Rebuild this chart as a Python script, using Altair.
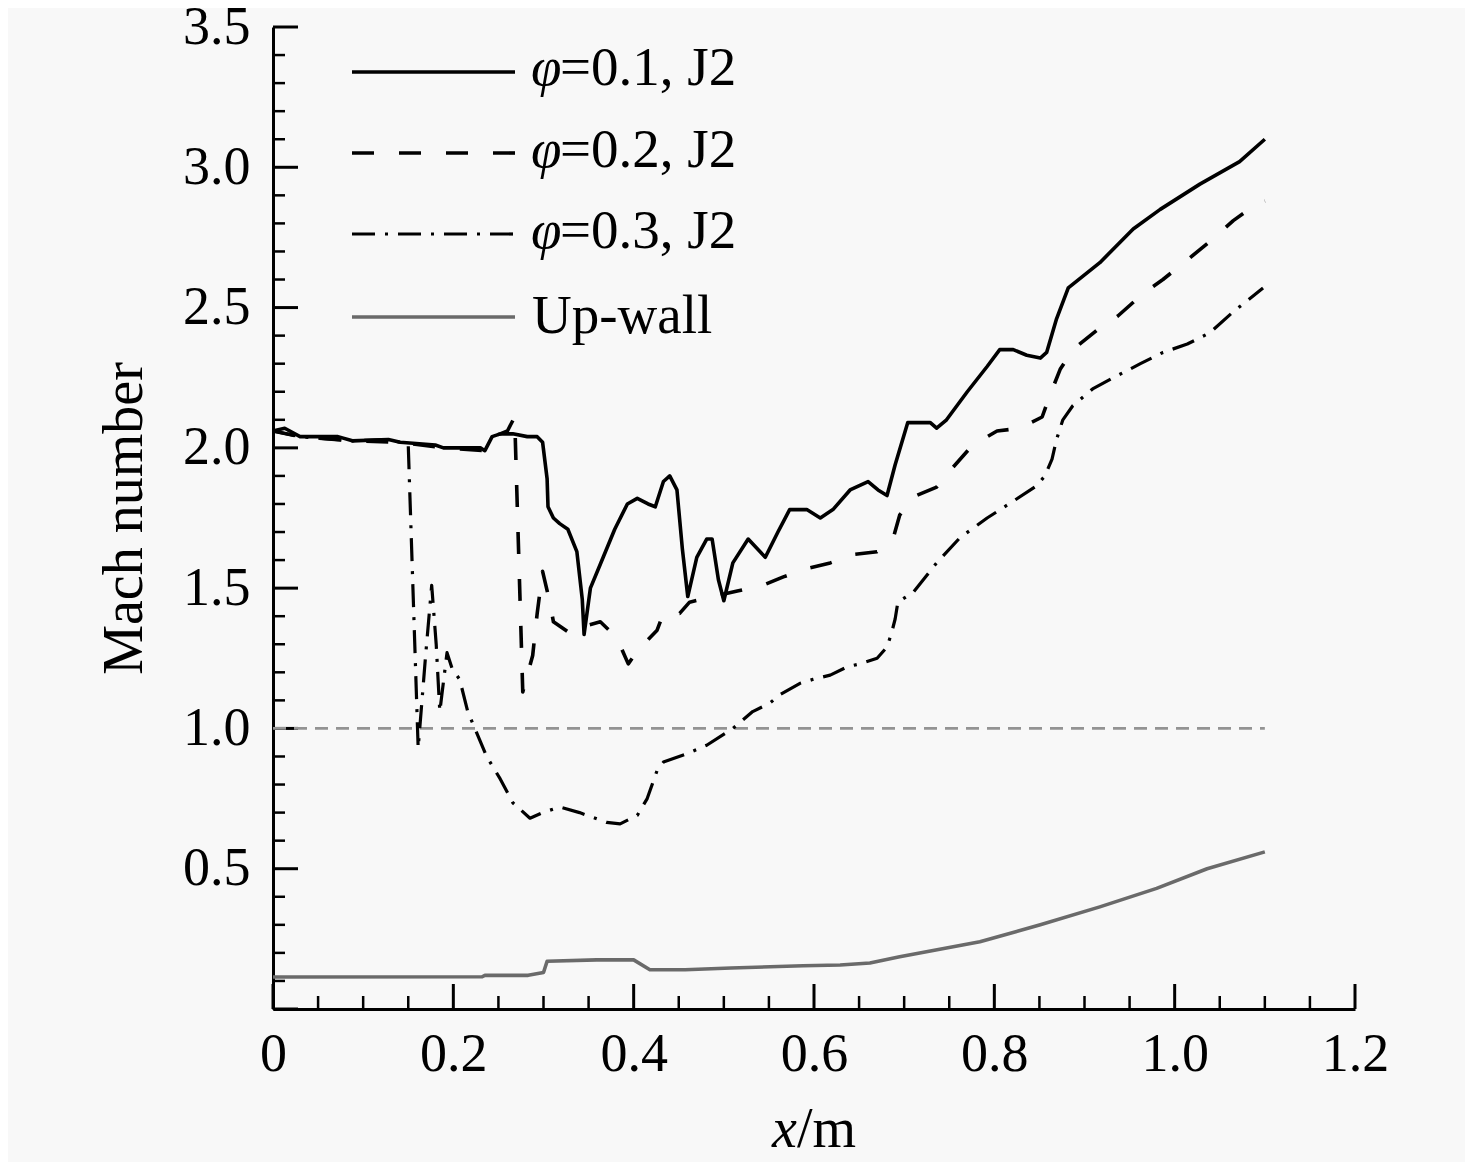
import altair as alt
import pandas as pd

# ---------------- data ----------------
phi01_x = [0, 0.013, 0.03, 0.072, 0.088, 0.128, 0.141, 0.18, 0.189, 0.23,
           0.235, 0.243, 0.252, 0.266, 0.282, 0.293, 0.299, 0.304, 0.305, 0.311,
           0.318, 0.327, 0.337, 0.343, 0.345, 0.352, 0.363, 0.379, 0.393, 0.404,
           0.416, 0.424, 0.433, 0.440, 0.448, 0.454, 0.460, 0.470, 0.481, 0.487,
           0.494, 0.500, 0.510, 0.527, 0.546, 0.560, 0.573, 0.592, 0.607, 0.621,
           0.640, 0.660, 0.671, 0.681, 0.690, 0.704, 0.718, 0.729, 0.736, 0.747,
           0.770, 0.792, 0.806, 0.821, 0.836, 0.851, 0.858, 0.869, 0.882, 0.917,
           0.954, 0.984, 1.028, 1.072, 1.100]
phi01_y = [2.06, 2.07, 2.04, 2.04, 2.025, 2.03, 2.02, 2.01, 2.00, 2.00,
           1.99, 2.04, 2.05, 2.05, 2.04, 2.04, 2.02, 1.89, 1.79, 1.75,
           1.73, 1.71, 1.63, 1.46, 1.335, 1.50, 1.585, 1.71, 1.80, 1.82,
           1.80, 1.79, 1.88, 1.90, 1.85, 1.64, 1.47, 1.61, 1.675, 1.675,
           1.53, 1.455, 1.59, 1.675, 1.61, 1.70, 1.78, 1.78, 1.75, 1.78,
           1.85, 1.88, 1.85, 1.83, 1.94, 2.09, 2.09, 2.09, 2.07, 2.10,
           2.20, 2.29, 2.35, 2.35, 2.33, 2.32, 2.34, 2.46, 2.57, 2.66,
           2.78, 2.85, 2.94, 3.02, 3.10]

phi02_x = [0, 0.03, 0.088, 0.141, 0.189, 0.235, 0.243, 0.252, 0.260, 0.268,
           0.277, 0.288, 0.293, 0.299, 0.307, 0.311, 0.329, 0.340, 0.363, 0.381,
           0.394, 0.405, 0.426, 0.433, 0.451, 0.462, 0.515, 0.543, 0.566, 0.592,
           0.618, 0.643, 0.670, 0.688, 0.695, 0.710, 0.736, 0.754, 0.776, 0.803,
           0.828, 0.853, 0.862, 0.873, 0.887, 0.914, 0.937, 0.965, 0.987, 1.014,
           1.039, 1.065, 1.089, 1.100]
phi02_y = [2.06, 2.04, 2.025, 2.02, 2.00, 1.99, 2.04, 2.05, 2.06, 2.11,
           1.13, 1.26, 1.41, 1.56, 1.45, 1.38, 1.34, 1.36, 1.38, 1.325,
           1.23, 1.28, 1.35, 1.41, 1.41, 1.45, 1.49, 1.51, 1.54, 1.57,
           1.59, 1.62, 1.63, 1.68, 1.76, 1.825, 1.86, 1.93, 2.01, 2.06,
           2.07, 2.11, 2.19, 2.28, 2.35, 2.42, 2.47, 2.55, 2.60, 2.67,
           2.735, 2.81, 2.865, 2.88]

phi03_x = [0, 0.03, 0.088, 0.128, 0.141, 0.150, 0.161, 0.169, 0.176, 0.181,
           0.185, 0.193, 0.199, 0.207, 0.216, 0.237, 0.252, 0.266, 0.285, 0.299,
           0.318, 0.340, 0.370, 0.385, 0.404, 0.415, 0.426, 0.433, 0.459, 0.481,
           0.510, 0.532, 0.551, 0.562, 0.584, 0.599, 0.618, 0.637, 0.651, 0.670,
           0.681, 0.686, 0.690, 0.693, 0.710, 0.736, 0.762, 0.792, 0.821, 0.847,
           0.856, 0.864, 0.869, 0.876, 0.887, 0.909, 0.932, 0.962, 0.987, 1.014,
           1.039, 1.065, 1.098]
phi03_y = [2.06, 2.04, 2.025, 2.03, 2.02, 2.01, 0.93, 1.25, 1.51, 1.30,
           1.06, 1.27, 1.21, 1.175, 1.06, 0.90, 0.82, 0.735, 0.68, 0.70,
           0.72, 0.70, 0.665, 0.66, 0.69, 0.75, 0.85, 0.88, 0.91, 0.94,
           1.00, 1.06, 1.09, 1.12, 1.16, 1.175, 1.19, 1.22, 1.23, 1.25,
           1.29, 1.34, 1.39, 1.45, 1.485, 1.59, 1.68, 1.75, 1.81, 1.865,
           1.90, 1.96, 2.03, 2.10, 2.15, 2.21, 2.25, 2.30, 2.34, 2.37,
           2.41, 2.485, 2.57]

upwall_x = [0, 0.232, 0.235, 0.283, 0.300, 0.304, 0.359, 0.400, 0.418, 0.457,
            0.508, 0.588, 0.629, 0.662, 0.695, 0.784, 0.851, 0.917, 0.980, 1.036,
            1.100]
upwall_y = [0.114, 0.115, 0.12, 0.12, 0.13, 0.17, 0.175, 0.175, 0.14, 0.14,
            0.146, 0.154, 0.157, 0.164, 0.186, 0.24, 0.30, 0.364, 0.43, 0.50,
            0.56]

sonic_x = [0, 1.1]
sonic_y = [1.0, 1.0]

# axis tick positions
x_major = [0, 0.2, 0.4, 0.6, 0.8, 1.0, 1.2]
x_minor = [0.05, 0.1, 0.15, 0.25, 0.3, 0.35, 0.45, 0.5, 0.55, 0.65, 0.7, 0.75,
           0.85, 0.9, 0.95, 1.05, 1.1, 1.15]
y_major = [0, 0.5, 1.0, 1.5, 2.0, 2.5, 3.0, 3.5]
y_labels = [0.5, 1.0, 1.5, 2.0, 2.5, 3.0, 3.5]
y_minor = [0.1, 0.2, 0.3, 0.4, 0.6, 0.7, 0.8, 0.9, 1.1, 1.2, 1.3, 1.4,
           1.6, 1.7, 1.8, 1.9, 2.1, 2.2, 2.3, 2.4, 2.6, 2.7, 2.8, 2.9,
           3.1, 3.2, 3.3, 3.4]

legend_labels = ["=0.1, J2", "=0.2, J2", "=0.3, J2"]

# ---------------- styling ----------------
W, H = 1082, 982
FONT = "Liberation Serif"
FS = 54
FS_LEG = 55
FS_TITLE = 56
BG = "#f8f8f8"

xs = alt.Scale(domain=[0, 1.2], nice=False, zero=False)
ys = alt.Scale(domain=[0, 3.5], nice=False, zero=False)

xaxis = alt.Axis(values=x_major,
                 labelExpr="datum.value == 0 ? '0' : format(datum.value, '.1f')",
                 ticks=False, grid=False, domainColor="black", domainWidth=3,
                 labelFont=FONT, labelFontSize=FS, labelColor="black",
                 labelPadding=18, labelFlush=False, labelOverlap=False, title=None)
yaxis = alt.Axis(values=y_labels, labelExpr="format(datum.value, '.1f')",
                 ticks=False, grid=False, domainColor="black", domainWidth=3,
                 labelFont=FONT, labelFontSize=FS, labelColor="black",
                 labelPadding=23, labelFlush=False, labelOverlap=False,
                 title="Mach number", titleFont=FONT, titleFontSize=FS_TITLE,
                 titleFontWeight="normal", titleColor="black", titlePadding=29)


def X():
    return alt.X("x:Q", scale=xs, axis=xaxis)


def Y():
    return alt.Y("y:Q", scale=ys, axis=yaxis)


def frame(a, b):
    return pd.DataFrame({"x": a, "y": b})


def line(df, color, width, dash=None):
    kw = dict(color=color, strokeWidth=width, strokeCap="butt", strokeJoin="round", clip=False)
    if dash is not None:
        kw["strokeDash"] = dash
    return alt.Chart(df).mark_line(**kw).encode(x=X(), y=Y())


DASH = [22, 25]
DASHDOT = [23, 10, 3, 10]
SONIC = [13, 8]
LW = 3.6

layers = []

# inward ticks
layers.append(alt.Chart(pd.DataFrame({"x": x_major})).mark_rule(color="black", strokeWidth=3).encode(
    x=X(), y=alt.value(H), y2=alt.value(H - 25)))
layers.append(alt.Chart(pd.DataFrame({"x": x_minor})).mark_rule(color="black", strokeWidth=2.5).encode(
    x=X(), y=alt.value(H), y2=alt.value(H - 13)))
layers.append(alt.Chart(pd.DataFrame({"y": y_major})).mark_rule(color="black", strokeWidth=3).encode(
    y=Y(), x=alt.value(0), x2=alt.value(25)))
layers.append(alt.Chart(pd.DataFrame({"y": y_minor})).mark_rule(color="black", strokeWidth=2.5).encode(
    y=Y(), x=alt.value(0), x2=alt.value(12)))

# data lines
layers.append(line(frame(sonic_x, sonic_y), "#939393", 2.8, SONIC))
layers.append(line(frame(upwall_x, upwall_y), "#6a6a6a", LW))
layers.append(line(frame(phi03_x, phi03_y), "black", 3.2, DASHDOT))
layers.append(line(frame(phi02_x, phi02_y), "black", LW, DASH))
layers.append(line(frame(phi01_x, phi01_y), "black", LW))

# manual legend
one = pd.DataFrame({"k": [0]})
leg_line_y = [45, 126, 207, 290]
leg_text_y = [58, 140, 221, 306]
leg_styles = [("black", LW, None), ("black", LW, DASH), ("black", 3.2, DASHDOT), ("#6a6a6a", LW, None)]
for ly, (c, w, d) in zip(leg_line_y, leg_styles):
    kw = dict(color=c, strokeWidth=w, strokeCap="butt")
    if d is not None:
        kw["strokeDash"] = d
    layers.append(alt.Chart(one).mark_rule(**kw).encode(
        x=alt.value(79), x2=alt.value(242), y=alt.value(ly)))

for ty, lab in zip(leg_text_y[:3], legend_labels):
    layers.append(alt.Chart(pd.DataFrame({"t": ["φ"]})).mark_text(
        font=FONT, fontSize=FS_LEG, fontStyle="italic", align="left", baseline="alphabetic", color="black"
    ).encode(x=alt.value(258), y=alt.value(ty), text="t:N"))
    layers.append(alt.Chart(pd.DataFrame({"t": [lab]})).mark_text(
        font=FONT, fontSize=FS_LEG, align="left", baseline="alphabetic", color="black"
    ).encode(x=alt.value(287), y=alt.value(ty), text="t:N"))
layers.append(alt.Chart(pd.DataFrame({"t": ["Up-wall"]})).mark_text(
    font=FONT, fontSize=FS_LEG, align="left", baseline="alphabetic", color="black"
).encode(x=alt.value(259), y=alt.value(leg_text_y[3]), text="t:N"))

# x-axis title: italic x + upright /m
layers.append(alt.Chart(pd.DataFrame({"t": ["x"]})).mark_text(
    font=FONT, fontSize=FS_TITLE, fontStyle="italic", align="left", baseline="alphabetic", color="black"
).encode(x=alt.value(499), y=alt.value(1120), text="t:N"))
layers.append(alt.Chart(pd.DataFrame({"t": ["/m"]})).mark_text(
    font=FONT, fontSize=FS_TITLE, align="left", baseline="alphabetic", color="black"
).encode(x=alt.value(524), y=alt.value(1120), text="t:N"))

chart = alt.layer(*layers).properties(
    width=W, height=H,
    autosize=alt.AutoSizeParams(type="none"),
    padding={"left": 265, "top": 19, "right": 110, "bottom": 153},
    background=BG,
).configure_view(stroke=None)

chart.save("out.html", embed_options={"renderer": "svg", "actions": False})
